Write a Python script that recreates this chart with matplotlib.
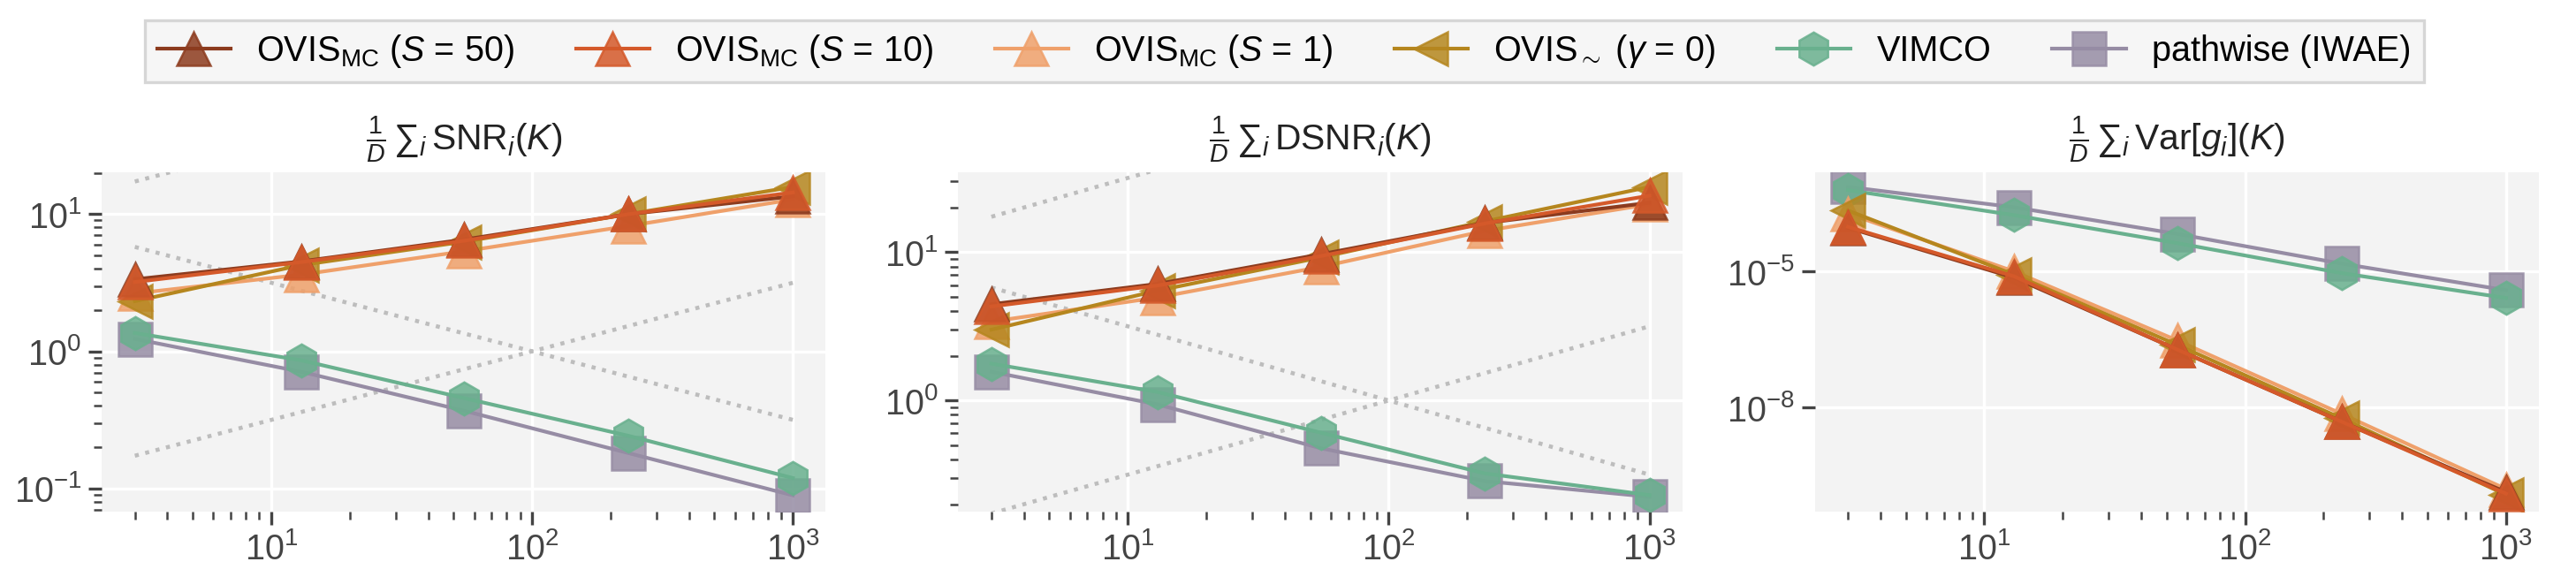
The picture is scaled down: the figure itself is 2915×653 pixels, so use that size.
import numpy as np
import matplotlib
matplotlib.use("Agg")
import matplotlib.pyplot as plt
from matplotlib.colors import to_rgba
from matplotlib.ticker import LogLocator, NullLocator, NullFormatter
from matplotlib.lines import Line2D

plt.rcParams['font.family'] = ['Liberation Sans', 'DejaVu Sans']
plt.rcParams['mathtext.fontset'] = 'custom'
plt.rcParams['mathtext.rm'] = 'Liberation Sans'
plt.rcParams['mathtext.it'] = 'Liberation Sans:italic'
plt.rcParams['mathtext.bf'] = 'Liberation Sans:bold'
plt.rcParams['mathtext.sf'] = 'Liberation Sans'

# ---------------- data ----------------
K = [3, 13, 55, 234, 1000]

labels = [r'OVIS$_{\mathrm{MC}}$ ($S$ = 50)', r'OVIS$_{\mathrm{MC}}$ ($S$ = 10)',
          r'OVIS$_{\mathrm{MC}}$ ($S$ = 1)', r'OVIS$_{\sim}$ ($\gamma$ = 0)',
          'VIMCO', 'pathwise (IWAE)']

snr_s50 = [3.35, 4.52, 6.53, 10.0, 13.5]
snr_s10 = [3.2, 4.47, 6.4, 10.0, 14.4]
snr_s1 = [2.64, 3.62, 5.37, 8.2, 12.8]
snr_tilde = [2.32, 4.25, 6.3, 10.0, 15.8]
snr_vimco = [1.36, 0.86, 0.455, 0.242, 0.119]
snr_iwae = [1.23, 0.71, 0.368, 0.181, 0.089]

dsnr_s50 = [4.45, 6.1, 9.67, 15.7, 21.5]
dsnr_s10 = [4.3, 5.95, 9.4, 15.6, 24.0]
dsnr_s1 = [3.4, 4.94, 7.95, 13.9, 21.0]
dsnr_tilde = [3.0, 5.5, 9.2, 16.1, 27.5]
dsnr_vimco = [1.77, 1.14, 0.606, 0.322, 0.23]
dsnr_iwae = [1.56, 0.94, 0.476, 0.286, 0.224]

var_s50 = [9.2e-5, 7.3e-6, 1.89e-7, 4.9e-9, 1.37e-10]
var_s10 = [9.6e-5, 7.8e-6, 1.89e-7, 4.9e-9, 1.27e-10]
var_s1 = [1.89e-4, 1.0e-5, 3.0e-7, 7.3e-9, 1.6e-10]
var_tilde = [2.2e-4, 8.5e-6, 2.4e-7, 5.8e-9, 1.2e-10]
var_vimco = [6.2e-4, 1.74e-4, 4.2e-5, 9.2e-6, 2.6e-6]
var_iwae = [7.3e-4, 2.6e-4, 6.7e-5, 1.49e-5, 3.86e-6]

# dotted reference guides (read at K = 3 and K = 1000)
ref_K = [3, 1000]
ref_up_low = [0.173, 3.16]
ref_down = [5.77, 0.316]
ref_up_high = [17.3, 316.0]

titles = [r'$\frac{1}{D}\,\sum{}_i\,\mathrm{SNR}_i(K)$',
          r'$\frac{1}{D}\,\sum{}_i\,\mathrm{DSNR}_i(K)$',
          r'$\frac{1}{D}\,\sum{}_i\,\mathrm{Var}[g_i](K)$']

colors = ['#8c3b1e', '#d4592a', '#efa06a', '#b5861e', '#69b08e', '#968ca4']
markers = ['^', '^', '^', '<', 'h', 's']

panels = [
    [snr_s50, snr_s10, snr_s1, snr_tilde, snr_vimco, snr_iwae],
    [dsnr_s50, dsnr_s10, dsnr_s1, dsnr_tilde, dsnr_vimco, dsnr_iwae],
    [var_s50, var_s10, var_s1, var_tilde, var_vimco, var_iwae],
]
ylims = [(0.0677, 20.2), (0.178, 34.5), (5.1e-11, 1.53e-3)]

# ---------------- figure ----------------
fig = plt.figure(figsize=(2915 / 300, 653 / 300), dpi=300)
fig.subplots_adjust(left=0.0395, right=0.9856, bottom=0.1133, top=0.7014, wspace=0.183)
axes = [fig.add_subplot(1, 3, i + 1) for i in range(3)]

plot_order = [5, 4, 2, 3, 0, 1]
for pi, ax in enumerate(axes):
    ax.set_facecolor('#f3f3f3')
    for s in ax.spines.values():
        s.set_visible(False)
    ax.set_xscale('log')
    ax.set_yscale('log')
    ax.grid(True, which='major', color='white', linewidth=0.8)
    ax.set_axisbelow(True)
    if pi < 2:
        for ry in (ref_up_low, ref_down, ref_up_high):
            ax.plot(ref_K, ry, linestyle=':', color='#bdbdbd', linewidth=1.1, zorder=1)
    for z, i in enumerate(plot_order):
        ax.plot(K, panels[pi][i], color=colors[i], linewidth=1.0, marker=markers[i],
                markersize=9, markerfacecolor=to_rgba(colors[i], 0.85),
                markeredgecolor=to_rgba(colors[i], 0.85), markeredgewidth=0.6,
                zorder=3 + z)
    ax.set_xlim(2.24, 1337)
    ax.set_ylim(*ylims[pi])
    ax.set_title(titles[pi], fontsize=9.8, color='#222222', pad=6)
    ax.tick_params(axis='both', which='major', length=3.5, width=0.8, color='#444444',
                   labelsize=9.5, labelcolor='#444444', pad=2)
    ax.tick_params(axis='both', which='minor', length=2.2, width=0.6, color='#444444')
    ax.xaxis.set_major_locator(LogLocator(base=10))
    ax.xaxis.set_minor_locator(LogLocator(base=10, subs=np.arange(2, 10)))
    ax.xaxis.set_minor_formatter(NullFormatter())
    if pi < 2:
        ax.yaxis.set_major_locator(LogLocator(base=10))
        ax.yaxis.set_minor_locator(LogLocator(base=10, subs=np.arange(2, 10)))
        ax.yaxis.set_minor_formatter(NullFormatter())
    else:
        ax.set_yticks([1e-5, 1e-8])
        ax.yaxis.set_minor_locator(NullLocator())

handles = [Line2D([], [], color=colors[i], linewidth=1.0, marker=markers[i], markersize=9,
                  markerfacecolor=to_rgba(colors[i], 0.85),
                  markeredgecolor=to_rgba(colors[i], 0.85), markeredgewidth=0.6)
           for i in range(6)]
leg = fig.legend(handles, labels, loc='upper center', bbox_to_anchor=(0.4985, 0.995), ncol=6,
                 fontsize=9.5, frameon=True, fancybox=False, facecolor='#f6f6f6',
                 edgecolor='#d6d6d6', handlelength=2.1, columnspacing=1.75,
                 borderpad=0.35, handletextpad=0.75)
leg.get_frame().set_linewidth(0.8)
leg.get_frame().set_alpha(1.0)

fig.savefig('out.png', dpi=300)
